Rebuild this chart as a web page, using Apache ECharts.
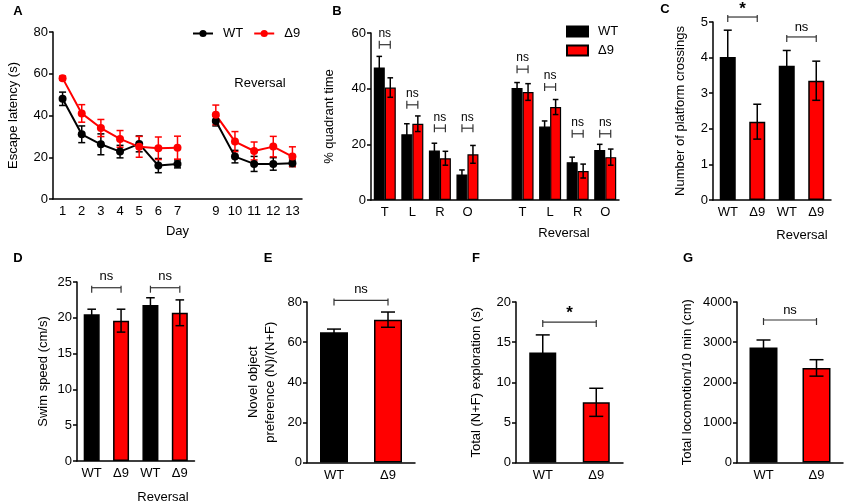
<!DOCTYPE html>
<html><head><meta charset="utf-8">
<script src="https://cdn.jsdelivr.net/npm/echarts@6/dist/echarts.min.js"></script>
<style>html,body{margin:0;padding:0;background:#fff}#c{width:846px;height:504px}</style>
</head><body><div id="c"></div>
<script>
// ---------- DATA ----------
// A: escape latency (s)
const days = ['1','2','3','4','5','6','7','','9','10','11','12','13'];
const wtLatency    = [48, 31, 26.2, 22.7, 26.4, 16, 16.8, null, 37.4, 20.3, 16.8, 16.8, 17.1];
const wtLatencyErr = [3.2, 4, 5, 3, 3.8, 3.4, 1.9, null, 2.4, 3, 3.6, 3, 1.6];
const d9Latency    = [57.9, 41, 34, 28.8, 25, 24.3, 24.6, null, 40.3, 27.5, 23, 25.1, 20.3];
const d9LatencyErr = [1, 4.2, 4.1, 4, 5, 5.4, 5.5, null, 4.7, 4.8, 4.3, 4.9, 4.7];
// B: % quadrant time
const quadrants = ['T','L','R','O','','T','L','R','O'];
const wtQuad    = [47.6, 23.6, 17.8, 9.2, null, 40.2, 26.4, 13.6, 18];
const wtQuadErr = [4, 3.8, 2.6, 1.6, null, 2, 2, 1.8, 2];
const d9Quad    = [40.4, 27.4, 15, 16.4, null, 38.8, 33.4, 10.4, 15.4];
const d9QuadErr = [3.5, 2.8, 2.5, 3.2, null, 3, 2.7, 2.5, 2.9];
const quadSigLevel = [55.8, 34.2, 25.8, 25.8, null, 47, 40.6, 23.8, 23.8];
const quadSigLabel = ['ns','ns','ns','ns','','ns','ns','ns','ns'];
// C: platform crossings
const groups4 = ['WT','Δ9','WT','Δ9'];
const crossings = [4.02, 2.2, 3.77, 3.35];
const crossErr  = [0.75, 0.49, 0.43, 0.55];
const crossSig  = [[0, 1, 5.14, '*'], [2, 3, 4.58, 'ns']];
// D: swim speed
const speed    = [20.5, 19.6, 21.8, 20.7];
const speedErr = [0.7, 1.6, 1.0, 1.8];
const speedSig = [[0, 1, 24.2, 'ns'], [2, 3, 24.2, 'ns']];
// E, F, G
const groups2 = ['WT','Δ9'];
const preference    = [64.9, 71.2];
const preferenceErr = [1.6, 3.8];
const preferenceSig = [[0, 1, 80.8, 'ns']];
const exploration    = [13.7, 7.5];
const explorationErr = [2.2, 1.75];
const explorationSig = [[0, 1, 17.5, '*']];
const locomotion    = [2863, 2357];
const locomotionErr = [190, 205];
const locomotionSig = [[0, 1, 3552, 'ns']];

// ---------- STYLE / HELPERS ----------
const FONT = "'Liberation Sans', Arial, sans-serif";
const BLACK = '#000000', RED = '#ff0000';
const pairColors = [BLACK, RED, BLACK, RED];

function toErr(vals, errs) {
  const out = [];
  vals.forEach((v, i) => { if (v != null) out.push([i, v - errs[i], v + errs[i]]); });
  return out;
}
function errSeries(g, vals, errs, color, offset, cap, z) {
  return {
    type: 'custom', xAxisIndex: g, yAxisIndex: g, z: z, silent: true,
    data: toErr(vals, errs), encode: { x: 0, y: [1, 2] },
    renderItem: (params, api) => {
      const i = api.value(0);
      const lo = api.coord([i, api.value(1)]);
      const hi = api.coord([i, api.value(2)]);
      const x = lo[0] + offset;
      const st = { stroke: color, lineWidth: 1.5 };
      return { type: 'group', children: [
        { type: 'line', shape: { x1: x, y1: lo[1], x2: x, y2: hi[1] }, style: st },
        { type: 'line', shape: { x1: x - cap, y1: hi[1], x2: x + cap, y2: hi[1] }, style: st },
        { type: 'line', shape: { x1: x - cap, y1: lo[1], x2: x + cap, y2: lo[1] }, style: st }
      ]};
    }
  };
}
function sigSeries(g, sig, offA, offB, up, down, textGap, fontSize) {
  return {
    type: 'custom', xAxisIndex: g, yAxisIndex: g, z: 5, silent: true, clip: false,
    data: sig.map(s => [s[0], s[1], s[2]]), encode: { x: [0, 1], y: 2 },
    renderItem: (params, api) => {
      const a = api.coord([api.value(0), api.value(2)]);
      const b = api.coord([api.value(1), api.value(2)]);
      const x1 = a[0] + offA, x2 = b[0] + offB, y = a[1];
      const st = { stroke: '#333', lineWidth: 1.2 };
      const label = sig[params.dataIndex][3];
      const star = label === '*';
      return { type: 'group', children: [
        { type: 'line', shape: { x1: x1, y1: y, x2: x2, y2: y }, style: st },
        { type: 'line', shape: { x1: x1, y1: y - up, x2: x1, y2: y + down }, style: st },
        { type: 'line', shape: { x1: x2, y1: y - up, x2: x2, y2: y + down }, style: st },
        { type: 'text', x: (x1 + x2) / 2, y: y - textGap + (star ? 2 : 0),
          style: { text: label, fill: '#000', fontSize: star ? 17 : fontSize,
                   fontWeight: star ? 'bold' : 'normal', fontFamily: FONT,
                   align: 'center', verticalAlign: 'middle', textAlign: 'center', textVerticalAlign: 'middle' } }
      ]};
    }
  };
}
const axisLine = { lineStyle: { color: BLACK, width: 1.5 } };
const axisTick = { length: 4, lineStyle: { color: BLACK, width: 1.5 } };
function xAx(g, cats, extra) {
  return Object.assign({
    type: 'category', gridIndex: g, data: cats, boundaryGap: true,
    axisLine: axisLine, axisTick: Object.assign({ alignWithLabel: true }, axisTick),
    axisLabel: { color: BLACK, fontSize: 13, fontFamily: FONT, margin: 6, interval: 0 },
    splitLine: { show: false }
  }, extra || {});
}
function yAx(g, min, max, interval, name, gap) {
  return {
    type: 'value', gridIndex: g, min: min, max: max, interval: interval,
    name: name, nameLocation: 'middle', nameGap: gap, nameRotate: 90,
    nameTextStyle: { color: BLACK, fontSize: 13, fontFamily: FONT, lineHeight: 17 },
    axisLine: { show: true, lineStyle: { color: BLACK, width: 1.5 } },
    axisTick: Object.assign({ show: true }, axisTick),
    axisLabel: { color: BLACK, fontSize: 13, fontFamily: FONT, margin: 5, formatter: v => String(v) },
    splitLine: { show: false }
  };
}
function singleBars(g, vals, width) {
  return {
    type: 'bar', xAxisIndex: g, yAxisIndex: g, barWidth: width, z: 2, silent: true,
    data: vals.map((v, i) => ({ value: v, itemStyle: { color: pairColors[i] } })),
    itemStyle: { borderColor: BLACK, borderWidth: 1.5 }
  };
}
function txt(x, y, text, size, bold) {
  return { type: 'text', x: x, y: y, silent: true,
    style: { text: text, fill: BLACK, fontSize: size, fontWeight: bold ? 'bold' : 'normal', fontFamily: FONT,
             align: 'center', verticalAlign: 'middle', textAlign: 'center', textVerticalAlign: 'middle' } };
}

const chart = echarts.init(document.getElementById('c'));
chart.setOption({
  animation: false,
  backgroundColor: '#fff',
  grid: [
    { left: 53,  top: 32,  width: 249,   height: 167 },   // A
    { left: 371, top: 33,  width: 248,   height: 167 },   // B
    { left: 713, top: 22,  width: 118,   height: 178 },   // C
    { left: 77,  top: 282, width: 117.5, height: 179 },   // D
    { left: 307, top: 302, width: 108,   height: 160.5 }, // E
    { left: 516, top: 302, width: 107,   height: 160.5 }, // F
    { left: 737, top: 302, width: 106,   height: 160.5 }  // G
  ],
  xAxis: [
    xAx(0, days, { name: 'Day', nameLocation: 'middle', nameGap: 26,
      nameTextStyle: { color: BLACK, fontSize: 13, fontFamily: FONT },
      axisTick: Object.assign({ alignWithLabel: true, interval: (i, v) => v !== '' }, axisTick) }),
    xAx(1, quadrants),
    xAx(2, groups4),
    xAx(3, groups4),
    xAx(4, groups2),
    xAx(5, groups2),
    xAx(6, groups2)
  ],
  yAxis: [
    yAx(0, 0, 80, 20, 'Escape latency (s)', 31),
    yAx(1, 0, 60, 20, '% quadrant time', 33),
    yAx(2, 0, 5, 1, 'Number of platform crossings', 24),
    yAx(3, 0, 25, 5, 'Swim speed (cm/s)', 25),
    yAx(4, 0, 80, 20, 'Novel object\npreference (N)/(N+F)', 28),
    yAx(5, 0, 20, 5, 'Total (N+F) exploration (s)', 31),
    yAx(6, 0, 4000, 1000, 'Total locomotion/10 min (cm)', 41)
  ],
  legend: [
    { data: ['WT', 'Δ9'], left: 192, top: 27, padding: 0, orient: 'horizontal',
      itemWidth: 20, itemHeight: 9, itemGap: 10,
      textStyle: { color: BLACK, fontSize: 13, fontFamily: FONT, padding: [0, 0, 0, 5] } },
    { data: ['WT-B', 'Δ9-B'], left: 566, top: 25, padding: 0, orient: 'vertical',
      itemWidth: 21, itemHeight: 10, itemGap: 6, icon: 'rect',
      formatter: n => n.replace('-B', ''),
      textStyle: { color: BLACK, fontSize: 13, fontFamily: FONT, padding: [0, 0, 0, 5] } }
  ],
  series: [
    // A
    errSeries(0, wtLatency, wtLatencyErr, BLACK, 0, 3.5, 3),
    errSeries(0, d9Latency, d9LatencyErr, RED, 0, 3.5, 3),
    { type: 'line', name: 'WT', xAxisIndex: 0, yAxisIndex: 0, data: wtLatency, connectNulls: false,
      symbol: 'circle', symbolSize: 8, color: BLACK, lineStyle: { width: 2, color: BLACK },
      itemStyle: { color: BLACK }, z: 4 },
    { type: 'line', name: 'Δ9', xAxisIndex: 0, yAxisIndex: 0, data: d9Latency, connectNulls: false,
      symbol: 'circle', symbolSize: 8, color: RED, lineStyle: { width: 2, color: RED },
      itemStyle: { color: RED }, z: 4 },
    // B
    { type: 'bar', name: 'WT-B', xAxisIndex: 1, yAxisIndex: 1, data: wtQuad, barWidth: 11, barGap: '0%',
      itemStyle: { color: BLACK, borderColor: BLACK, borderWidth: 1.2 }, z: 2 },
    { type: 'bar', name: 'Δ9-B', xAxisIndex: 1, yAxisIndex: 1, data: d9Quad, barWidth: 11, barGap: '0%',
      itemStyle: { color: RED, borderColor: BLACK, borderWidth: 1.2 }, z: 2 },
    errSeries(1, wtQuad, wtQuadErr, BLACK, -5.5, 2.8, 3),
    errSeries(1, d9Quad, d9QuadErr, BLACK, 5.5, 2.8, 3),
    sigSeries(1, quadSigLevel.map((y, i) => [i, i, y, quadSigLabel[i]]).filter(s => s[2] != null),
      -5.5, 5.5, 4, 4, 11, 12),
    // C
    singleBars(2, crossings, 16),
    errSeries(2, crossings, crossErr, BLACK, 0, 4, 3),
    sigSeries(2, crossSig, 0, 0, 2, 5, 10, 13),
    // D
    singleBars(3, speed, 16),
    errSeries(3, speed, speedErr, BLACK, 0, 4.3, 3),
    sigSeries(3, speedSig, 0, 0, 2, 5, 11, 13),
    // E
    singleBars(4, preference, 28),
    errSeries(4, preference, preferenceErr, BLACK, 0, 7, 3),
    sigSeries(4, preferenceSig, 0, 0, 2, 5, 11, 13),
    // F
    singleBars(5, exploration, 27),
    errSeries(5, exploration, explorationErr, BLACK, 0, 7, 3),
    sigSeries(5, explorationSig, 0, 0, 2, 5, 11, 13),
    // G
    singleBars(6, locomotion, 28),
    errSeries(6, locomotion, locomotionErr, BLACK, 0, 7, 3),
    sigSeries(6, locomotionSig, 0, 0, 2, 5, 10, 13)
  ],
  graphic: [
    txt(18, 11, 'A', 13, true), txt(337, 11, 'B', 13, true), txt(665, 9, 'C', 13, true),
    txt(18, 258, 'D', 13, true), txt(268, 258, 'E', 13, true), txt(476, 258, 'F', 13, true),
    txt(688, 258, 'G', 13, true),
    txt(260, 83, 'Reversal', 13), txt(564, 233, 'Reversal', 13),
    txt(802, 235, 'Reversal', 13), txt(163, 497, 'Reversal', 13)
  ]
});
</script></body></html>
